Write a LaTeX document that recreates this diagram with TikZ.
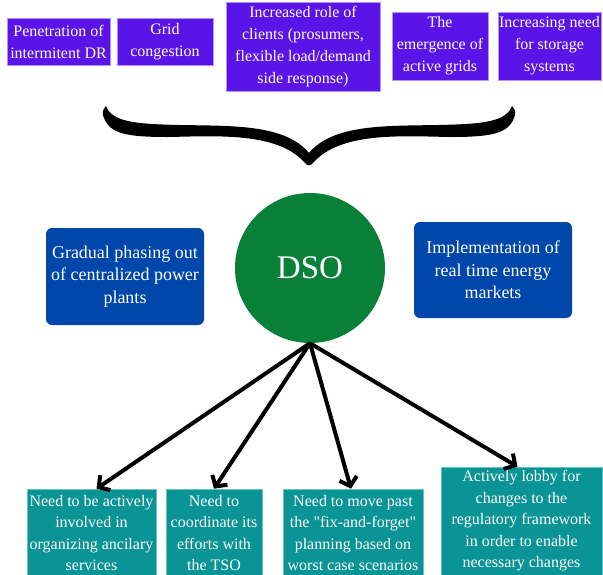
\documentclass[tikz,border=0pt]{standalone}
\usepackage{fontspec}
\setmainfont{Liberation Serif}
\usetikzlibrary{arrows.meta}
\definecolor{topfill}{RGB}{91,20,232}
\definecolor{topedge}{RGB}{180,145,250}
\definecolor{midblue}{RGB}{0,71,171}
\definecolor{dsogreen}{RGB}{8,128,56}
\definecolor{botfill}{RGB}{10,148,150}
\definecolor{botedge}{RGB}{100,195,195}
\begin{document}
\begin{tikzpicture}[x=1pt,y=-1pt,
 topbox/.style={draw=topedge, line width=0.8pt, fill=topfill, text=white, align=center, inner sep=0pt, font=\rmfamily\fontsize{16}{22}\selectfont},
 midbox/.style={fill=midblue, rounded corners=6pt, text=white, align=center, inner sep=0pt, minimum width=158pt, font=\rmfamily\fontsize{18}{22.5}\selectfont},
 botbox/.style={draw=botedge, line width=0.6pt, fill=botfill, text=white, align=center, inner sep=0pt, font=\rmfamily\fontsize{16}{21.5}\selectfont},
 arr/.style={line width=4pt, -{Straight Barb[length=8pt,width=18pt]}}
]
\clip (0,0) rectangle (603,574);
% top boxes
\node[topbox, minimum width=103pt, minimum height=47pt] (t1) at (58.5,41.5) {Penetration of\\intermitent DR};
\node[topbox, minimum width=96pt, minimum height=47pt] (t2) at (165,41.5) {Grid\\congestion};
\node[topbox, minimum width=154pt, minimum height=89pt] (t3) at (303,46.5) {Increased role of\\clients (prosumers,\\flexible load/demand\\side response)};
\node[topbox, minimum width=96pt, minimum height=68pt] (t4) at (440,46) {The\\emergence of\\active grids};
\node[topbox, minimum width=103pt, minimum height=68pt] (t5) at (549.5,46) {Increasing need\\for storage\\systems};
% brace
\fill[black] (106,106) .. controls (112,122) and (135,124) .. (180,125)
  .. controls (232,126) and (285,124) .. (309,153)
  .. controls (333,124) and (386,126) .. (438,125)
  .. controls (483,124) and (506,122) .. (512,106)
  .. controls (516,110) and (516,114) .. (514,118)
  .. controls (508,134) and (490,137) .. (450,137)
  .. controls (400,136) and (340,132) .. (313,163)
  .. controls (311,166) and (307,166) .. (305,163)
  .. controls (278,132) and (218,136) .. (168,137)
  .. controls (128,137) and (110,134) .. (104,118)
  .. controls (102,114) and (102,110) .. (106,106) -- cycle;
% middle
\node[circle, fill=dsogreen, minimum size=150pt, inner sep=0pt, text=white, font=\rmfamily\fontsize{33}{36}\selectfont] (dso) at (310,268) {DSO};
\node[midbox, minimum height=97pt] (m1) at (125,276.5) {Gradual phasing out\\of centralized power\\plants};
\node[midbox, minimum height=96pt] (m2) at (493,270) {Implementation of\\real time energy\\markets};
% bottom boxes
\node[botbox, minimum width=129pt, minimum height=88pt] (b1) at (91.5,533) {Need to be actively\\involved in\\organizing ancilary\\services};
\node[botbox, minimum width=96pt, minimum height=88pt] (b2) at (214,533) {Need to\\coordinate its\\efforts with\\the TSO};
\node[botbox, minimum width=140pt, minimum height=88pt] (b3) at (353,533) {Need to move past\\the \textquotedbl fix-and-forget\textquotedbl\\planning based on\\worst case scenarios};
\node[botbox, minimum width=161pt, minimum height=108pt] (b4) at (521.5,521) {Actively lobby for\\changes to the\\regulatory framework\\in order to enable\\necessary changes};
% arrows
\draw[arr] (dso.south) -- ([xshift=5pt]b1.north);
\draw[arr] (dso.south) -- (b2.north);
\draw[arr] (dso.south) -- ([xshift=-2pt]b3.north);
\draw[arr] (dso.south) -- ([xshift=-4pt]b4.north);
\end{tikzpicture}
\end{document}
